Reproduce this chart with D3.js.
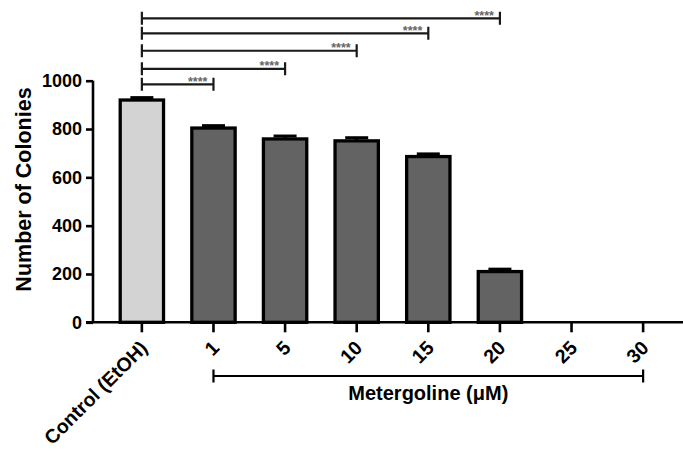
<!DOCTYPE html>
<html>
<head>
<meta charset="utf-8">
<script src="https://cdn.jsdelivr.net/npm/d3@7"></script>
<style>
  html, body { margin: 0; padding: 0; background: #fff; }
  svg { display: block; }
  text { font-family: "Liberation Sans", Arial, Helvetica, sans-serif; font-weight: bold; }
</style>
</head>
<body>
<svg id="chart" width="683" height="454"></svg>
<script>
// ---- data ----
const categories = ["Control (EtOH)", "1", "5", "10", "15", "20", "25", "30"];
const means = [920, 804, 759, 751, 686, 210, 0, 0];
const sems  = [10, 10, 12, 13, 11, 10, 0, 0];
const yTicks = [0, 200, 400, 600, 800, 1000];
// significance comparisons: control vs. category, level in data units
const compareTo = ["1", "5", "10", "15", "20"];
const compareLevel = [985, 1049, 1124, 1196, 1258];
const compareLabel = ["****", "****", "****", "****", "****"];
const groupStart = "1", groupEnd = "30", groupLabel = "Metergoline (\u03BCM)";
const yTitle = "Number of Colonies";

// ---- layout ----
const svg = d3.select("#chart");
const axisX = 93;
const x = d3.scaleBand().domain(categories).range([axisX, 692]).paddingInner(0.395).paddingOuter(0.38);
const y = d3.scaleLinear().domain([0, 1000]).range([322.3, 80.7]);
const cx = c => x(c) + x.bandwidth() / 2;

// bars
const rows = categories.map((c, i) => ({ c, m: means[i], s: sems[i], i }));
svg.append("g").selectAll("rect").data(rows.filter(d => d.m > 0)).join("rect")
  .attr("x", d => x(d.c)).attr("width", x.bandwidth())
  .attr("y", d => y(d.m)).attr("height", d => y(0) - y(d.m))
  .attr("fill", d => d.i === 0 ? "#d3d3d3" : "#636363")
  .attr("stroke", "#000").attr("stroke-width", 3.3);

// error bars (upper)
const eb = svg.append("g").attr("stroke", "#000").attr("stroke-width", 3);
rows.filter(d => d.m > 0).forEach(d => {
  eb.append("line").attr("x1", cx(d.c)).attr("x2", cx(d.c)).attr("y1", y(d.m)).attr("y2", y(d.m + d.s));
  eb.append("line").attr("x1", cx(d.c) - 11.5).attr("x2", cx(d.c) + 11.5).attr("y1", y(d.m + d.s)).attr("y2", y(d.m + d.s));
});

// y axis
const yAxis = d3.axisLeft(y).tickValues(yTicks).tickSize(7).tickPadding(4).tickFormat(d3.format("d"));
const gy = svg.append("g").attr("transform", `translate(${axisX},0)`).call(yAxis);
gy.select(".domain").remove();
gy.append("line").attr("x1", 0).attr("x2", 0).attr("y1", y(1000)).attr("y2", y(0)).attr("stroke", "#000").attr("stroke-width", 2.6);
gy.selectAll(".tick line").attr("stroke", "#000").attr("stroke-width", 2.6);
gy.selectAll(".tick text").attr("fill", "#000").style("font-size", "18px").style("font-family", "Liberation Sans, Arial, sans-serif").style("font-weight", "bold");

// x axis
const xAxis = d3.axisBottom(x).tickSize(10).tickPadding(0);
const gx = svg.append("g").attr("transform", `translate(0,${y(0)})`).call(xAxis);
gx.select(".domain").remove();
gx.append("line").attr("x1", axisX - 7).attr("x2", 683).attr("y1", 0).attr("y2", 0).attr("stroke", "#000").attr("stroke-width", 2.6);
gx.selectAll(".tick line").attr("stroke", "#000").attr("stroke-width", 2.6);
gx.selectAll(".tick text")
  .attr("fill", "#000")
  .style("font-size", "19.5px").style("font-family", "Liberation Sans, Arial, sans-serif").style("font-weight", "bold")
  .attr("text-anchor", "end")
  .attr("y", 0).attr("dy", "0.35em")
  .attr("transform", "translate(2,22) rotate(-45)");

// y title
svg.append("text")
  .attr("transform", `translate(30.5,${(y(0) + y(1000)) / 2 - 12}) rotate(-90)`)
  .attr("text-anchor", "middle")
  .style("font-size", "21.5px")
  .text(yTitle);

// significance brackets
const br = svg.append("g").attr("stroke", "#1a1a1a").attr("stroke-width", 2.2).attr("fill", "none");
compareTo.forEach((c, i) => {
  const yy = y(compareLevel[i]);
  const x1 = cx(categories[0]), x2 = cx(c);
  br.append("path").attr("d", `M${x1},${yy - 6.5}V${yy + 6.5}M${x1},${yy}H${x2}M${x2},${yy - 6.5}V${yy + 6.5}`);
  svg.append("text").attr("x", x2 - 6).attr("y", yy + 1.5)
    .attr("text-anchor", "end").attr("fill", "#666")
    .style("font-size", "12.5px")
    .text(compareLabel[i]);
});

// group bracket
const gyPos = 376;
const gxa = cx(groupStart), gxb = cx(groupEnd);
svg.append("path")
  .attr("d", `M${gxa},${gyPos - 6.5}V${gyPos + 6.5}M${gxa},${gyPos}H${gxb}M${gxb},${gyPos - 6.5}V${gyPos + 6.5}`)
  .attr("stroke", "#000").attr("stroke-width", 2.2).attr("fill", "none");
svg.append("text").attr("x", (gxa + gxb) / 2).attr("y", 400)
  .attr("text-anchor", "middle").style("font-size", "20px")
  .text(groupLabel);
</script>
</body>
</html>
